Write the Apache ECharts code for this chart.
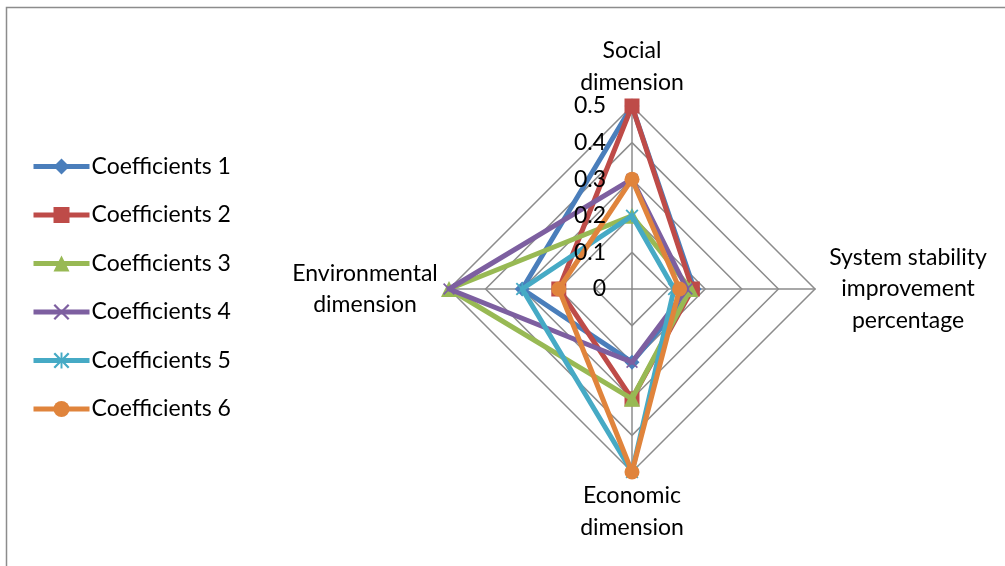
<!DOCTYPE html>
<html>
<head>
<meta charset="utf-8">
<script src="https://cdn.jsdelivr.net/npm/echarts@6/dist/echarts.min.js"></script>
<style>
html,body{margin:0;padding:0;background:#fff;}
#chart{width:1005px;height:566px;}
</style>
</head>
<body>
<div id="chart"></div>
<script>
// Indicators in ECharts order (counter-clockwise from top)
const indicatorNames = ['Social\ndimension', 'Environmental\ndimension', 'Economic\ndimension', 'System stability\nimprovement\npercentage'];
const indicatorMax = 0.5;
const tickLabels = ['0', '0.1', '0.2', '0.3', '0.4', '0.5'];
const seriesNames = ['Coefficients 1', 'Coefficients 2', 'Coefficients 3', 'Coefficients 4', 'Coefficients 5', 'Coefficients 6'];
// values: [social, environmental, economic, system stability]
const coef1 = [0.5, 0.3, 0.2, 0.17];
const coef2 = [0.5, 0.2, 0.3, 0.165];
const coef3 = [0.2, 0.5, 0.3, 0.16];
const coef4 = [0.3, 0.5, 0.2, 0.15];
const coef5 = [0.2, 0.3, 0.5, 0.115];
const coef6 = [0.3, 0.2, 0.5, 0.13];
const allValues = [coef1, coef2, coef3, coef4, coef5, coef6];

const colors = ['#4a7ebb', '#be4b48', '#98b954', '#7d5fa0', '#46aac5', '#e0843c'];
const xPath = 'path://M0,1L1,0L5,4L9,0L10,1L6,5L10,9L9,10L5,6L1,10L0,9L4,5Z';
const starPath = 'path://M0,1L1,0L5,4L9,0L10,1L6,5L10,9L9,10L5,6L1,10L0,9L4,5ZM4.4,0L5.6,0L5.6,10L4.4,10Z';
const symbols = ['diamond', 'rect', 'triangle', xPath, starPath, 'circle'];
const symbolSizes = [15, 15, 16, 12, 13, 15];

const FONT = 'Lato';
const FS = 23;
const chart = echarts.init(document.getElementById('chart'), null, {renderer: 'canvas'});

const legendSeries = seriesNames.map((n, i) => ({
  type: 'line',
  name: n,
  xAxisIndex: 0,
  yAxisIndex: 0,
  data: [],
  color: colors[i],
  symbol: symbols[i],
  symbolSize: symbolSizes[i],
  lineStyle: {width: 5, color: colors[i]},
  itemStyle: {color: colors[i]}
}));

const radarSeries = seriesNames.map((n, i) => ({
  type: 'radar',
  name: n,
  z: 2 + i,
  symbol: symbols[i],
  symbolSize: symbolSizes[i],
  color: colors[i],
  lineStyle: {width: 5, color: colors[i]},
  itemStyle: {color: colors[i]},
  data: [{value: allValues[i], name: n}]
}));

const nameKeys = ['t', 'l', 'b', 'r'];

chart.setOption({
  animation: false,
  backgroundColor: '#fff',
  graphic: [{
    type: 'rect',
    shape: {x: 6.5, y: 7.5, width: 1100, height: 700},
    style: {fill: 'none', stroke: '#8c8c8c', lineWidth: 1.5},
    silent: true, z: 0
  }],
  legend: {
    orient: 'vertical',
    left: 26,
    top: 150,
    itemWidth: 56,
    itemHeight: 20,
    itemGap: 25.5,
    data: seriesNames,
    lineStyle: {width: 5},
    textStyle: {fontFamily: FONT, fontSize: FS, color: '#000', padding: [0, 0, 0, -3]}
  },
  grid: {left: 632, top: 106, width: 1, height: 183, show: false},
  xAxis: {type: 'category', show: false, data: ['a']},
  yAxis: {
    type: 'value', min: 0, max: indicatorMax, interval: 0.1,
    position: 'left', z: 20,
    axisLine: {show: false}, axisTick: {show: false}, splitLine: {show: false},
    axisLabel: {
      margin: 26, color: '#000', fontFamily: FONT, fontSize: FS,
      formatter: (v) => tickLabels[Math.round(v * 10)]
    }
  },
  radar: {
    center: [632, 289],
    radius: 183,
    shape: 'polygon',
    splitNumber: 5,
    indicator: indicatorNames.map(n => ({name: n, max: indicatorMax, min: 0})),
    nameGap: 8,
    axisName: {
      color: '#000', fontFamily: FONT, fontSize: FS, lineHeight: 31.5,
      formatter: function (name) {
        const idx = indicatorNames.indexOf(name);
        const k = nameKeys[idx];
        return name.split('\n').map(s => '{' + k + '|' + s + '}').join('\n');
      },
      rich: {
        t: {width: 120, align: 'center', fontFamily: FONT, fontSize: FS, lineHeight: 31.5, color: '#000'},
        b: {width: 120, align: 'center', fontFamily: FONT, fontSize: FS, lineHeight: 31.5, color: '#000'},
        l: {width: 152, align: 'center', fontFamily: FONT, fontSize: FS, lineHeight: 31.5, color: '#000'},
        r: {width: 170, align: 'center', fontFamily: FONT, fontSize: FS, lineHeight: 31.5, color: '#000'}
      }
    },
    axisLine: {lineStyle: {color: '#8c8c8c', width: 1.5}},
    splitLine: {lineStyle: {color: '#8c8c8c', width: 1.5}},
    splitArea: {show: false},
    axisTick: {show: false},
    axisLabel: {show: false}
  },
  series: legendSeries.concat(radarSeries)
});
</script>
</body>
</html>
